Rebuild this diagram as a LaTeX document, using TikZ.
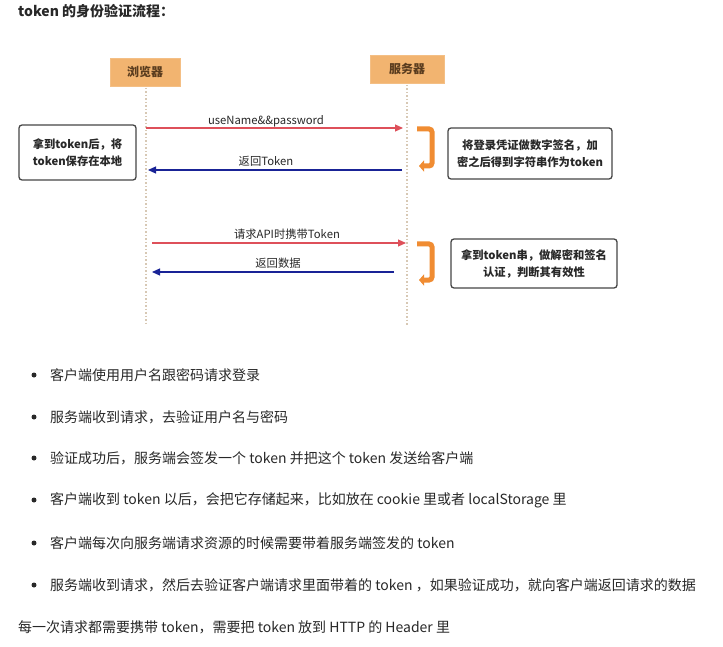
\documentclass[tikz,border=0pt]{standalone}
\usepackage{fontspec}
\setmainfont{Noto Sans CJK SC}
\usetikzlibrary{arrows.meta}
\definecolor{hdrfill}{RGB}{242,180,112}
\definecolor{hdrtext}{RGB}{90,60,30}
\definecolor{life}{RGB}{215,200,180}
\definecolor{reqred}{RGB}{222,80,90}
\definecolor{resblue}{RGB}{25,35,150}
\definecolor{brk}{RGB}{240,140,50}
\definecolor{boxline}{RGB}{70,70,70}
\definecolor{txt}{RGB}{40,40,40}
\tikzset{
  hdr/.style={fill=hdrfill, draw=hdrfill!85!white, minimum width=70pt, minimum height=28pt, inner sep=0pt, font=\fontsize{12}{14}\selectfont\bfseries, text=hdrtext},
  lifeline/.style={draw=life, line width=1.2pt, dash pattern=on 1.5pt off 2pt},
  note/.style={draw=boxline, line width=1.3pt, rounded corners=3pt, fill=white, align=center, inner sep=0pt, font=\fontsize{11.3}{17}\selectfont\bfseries, text=txt},
  req/.style={draw=reqred, line width=1.2pt, -{Triangle[length=8pt,width=7pt]}},
  res/.style={draw=resblue, line width=1.2pt, -{Triangle[length=8pt,width=7pt]}},
  lbl/.style={font=\fontsize{11.3}{13}\selectfont, text=txt, inner sep=0pt},
  bracket/.style={draw=brk, line width=5pt, rounded corners=3pt, -{Triangle[length=5pt,width=11pt]}},
  body/.style={anchor=west, inner sep=0pt, font=\fontsize{14}{16}\selectfont, text=txt},
  dot/.style={circle, fill=txt, inner sep=0pt, minimum size=5pt}
}
\begin{document}
\begin{tikzpicture}[x=1pt,y=-1pt]
\useasboundingbox[fill=white] (0,0) rectangle (723,647);
\node[anchor=west, inner sep=0pt, font=\fontsize{14}{16}\selectfont\bfseries, text=txt] (title) at (18,11) {token 的身份验证流程：};

% headers
\node[hdr] (browser) at (145,72) {浏览器};
\node[hdr, minimum width=74pt] (server) at (407,69) {服务器};

% lifelines
\coordinate (bt) at (146,88);
\coordinate (bb) at (146,326);
\coordinate (st) at (407,85);
\coordinate (sb) at (407,326);
\draw[lifeline] (bt) -- (bb);
\draw[lifeline] (st) -- (sb);

% message endpoints
\coordinate (m1a) at (146,128); \coordinate (m1b) at (403,128);
\coordinate (m2a) at (402,170); \coordinate (m2b) at (148,170);
\coordinate (m3a) at (152,243); \coordinate (m3b) at (406,243);
\coordinate (m4a) at (394,272); \coordinate (m4b) at (152,272);

\draw[req] (m1a) -- (m1b);
\draw[res] (m2a) -- (m2b);
\draw[req] (m3a) -- (m3b);
\draw[res] (m4a) -- (m4b);
\node[lbl] (l1) at (266,121.5) {useName\&\&password};
\node[lbl] (l2) at (266,161.5) {返回Token};
\node[lbl] (l3) at (287,234) {请求API时携带Token};
\node[lbl] (l4) at (278,263) {返回数据};

% brackets
\coordinate (b1s) at (417,129); \coordinate (b1c1) at (432,129); \coordinate (b1c2) at (432,166); \coordinate (b1e) at (419,166);
\draw[bracket] (b1s) -- (b1c1) -- (b1c2) -- (b1e);
\coordinate (b2s) at (417,244); \coordinate (b2c1) at (432,244); \coordinate (b2c2) at (432,280); \coordinate (b2e) at (419,280);
\draw[bracket] (b2s) -- (b2c1) -- (b2c2) -- (b2e);

% notes
\node[note, minimum width=164pt, minimum height=51pt] (n1) at (530,153.5) {将登录凭证做数字签名，加\\密之后得到字符串作为token};
\node[note, minimum width=117pt, minimum height=55pt] (n2) at (77.5,152.5) {拿到token后，将\\token保存在本地};
\node[note, minimum width=166pt, minimum height=49pt] (n3) at (534,263.5) {拿到token串，做解密和签名\\认证，判断其有效性};

% bullet list
\node[dot] (d1) at (34,375) {}; \node[body] (t1) at (50,375) {客户端使用用户名跟密码请求登录};
\node[dot] (d2) at (34,417) {}; \node[body] (t2) at (50,417) {服务端收到请求，去验证用户名与密码};
\node[dot] (d3) at (34,458) {}; \node[body] (t3) at (50,458) {验证成功后，服务端会签发一个 token 并把这个 token 发送给客户端};
\node[dot] (d4) at (34,500) {}; \node[body] (t4) at (50,500) {客户端收到 token 以后，会把它存储起来，比如放在 cookie 里或者 localStorage 里};
\node[dot] (d5) at (34,543) {}; \node[body] (t5) at (50,543) {客户端每次向服务端请求资源的时候需要带着服务端签发的 token};
\node[dot] (d6) at (34,585) {}; \node[body] (t6) at (50,585) {服务端收到请求，然后去验证客户端请求里面带着的 token ，如果验证成功，就向客户端返回请求的数据};
\node[body] (last) at (18,627) {每一次请求都需要携带 token，需要把 token 放到 HTTP 的 Header 里};
\end{tikzpicture}
\end{document}
